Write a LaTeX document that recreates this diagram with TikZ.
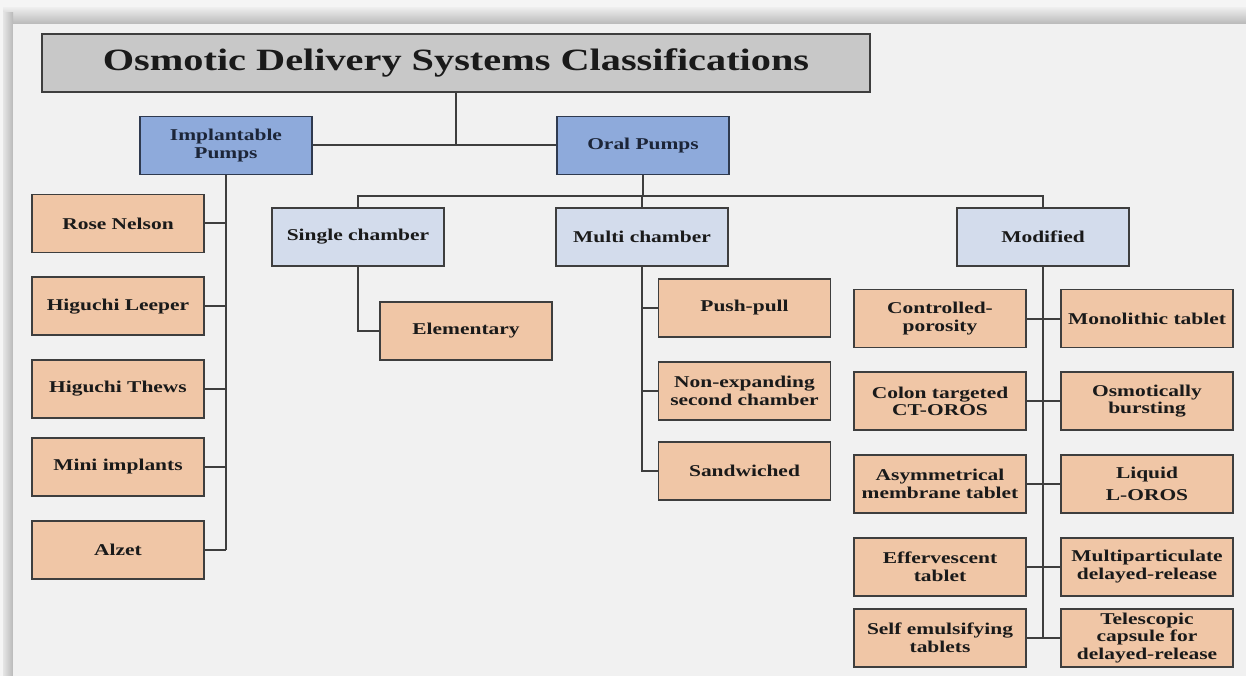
\documentclass[tikz,border=0pt]{standalone}
\usepackage{fontspec}
\setmainfont{Liberation Serif}[FakeStretch=1.3]
\definecolor{pumpblue}{HTML}{8EAADB}
\definecolor{pumpedge}{HTML}{2F3A4F}
\definecolor{pumptext}{HTML}{1C2538}
\definecolor{kindblue}{HTML}{D3DCEC}
\definecolor{leaforange}{HTML}{F0C6A6}
\definecolor{titlegray}{HTML}{C8C8C8}
\definecolor{edge}{HTML}{3E3E3E}
\definecolor{ink}{HTML}{1A1A1A}
\definecolor{canvas}{HTML}{F1F1F1}
\begin{document}
\begin{tikzpicture}[x=1pt,y=-1pt,
  box/.style = {draw=edge, line width=1.9pt, rectangle, minimum width=172pt, minimum height=58pt, inner sep=2pt, align=center, text=ink, font=\bfseries\fontsize{16.5}{17.5}\selectfont},
  head/.style = {box, fill=titlegray, minimum width=828pt, font=\bfseries\fontsize{31}{34}\selectfont},
  pump/.style = {box, fill=pumpblue, draw=pumpedge, text=pumptext},
  kind/.style = {box, fill=kindblue},
  leaf/.style = {box, fill=leaforange},
  link/.style = {draw=edge, line width=2pt}]
\useasboundingbox (0,0) rectangle (1246,676);
% frame
\fill[white!96!black] (0,0) rectangle (1246,676);
\shade[top color=gray!15, bottom color=gray!55] (3,8) rectangle (1246,24);
\shade[left color=gray!20, right color=gray!55] (3,13) rectangle (13,676);
\fill[canvas] (13,24) rectangle (1246,676);
% top levels
\node[head] (title) at (456,63) {Osmotic Delivery Systems Classifications};
\node[pump] (impl) at (226,145.5) {Implantable\\Pumps};
\node[pump] (oral) at (643,145.5) {Oral Pumps};
% implantable pumps
\node[leaf] (rose) at (118,223.5) {Rose Nelson};
\node[leaf] (leeper) at (118,306.3) {Higuchi Leeper};
\node[leaf] (thews) at (118,388.8) {Higuchi Thews};
\node[leaf] (mini) at (118,466.7) {Mini implants};
\node[leaf] (alzet) at (118,549.8) {Alzet};
% oral pumps
\node[kind] (single) at (358,237) {Single chamber};
\node[kind] (multi) at (642,237) {Multi chamber};
\node[kind] (modif) at (1043,237) {Modified};
\node[leaf] (elem) at (466,331) {Elementary};
\node[leaf] (push) at (744.5,308) {Push-pull};
\node[leaf] (nonexp) at (744.5,391) {Non-expanding\\second chamber};
\node[leaf] (sandw) at (744.5,471) {Sandwiched};
% modified
\node[leaf] (contr) at (940,318.5) {Controlled-\\porosity};
\node[leaf] (mono) at (1147,318.5) {Monolithic tablet};
\node[leaf] (colon) at (940,401.3) {Colon targeted\\CT-OROS};
\node[leaf] (burst) at (1147,401.3) {Osmotically\\bursting};
\node[leaf] (asym) at (940,484) {Asymmetrical\\membrane tablet};
\node[leaf] (liquid) at (1147,484) {Liquid\\[4pt]L-OROS};
\node[leaf] (efferv) at (940,566.8) {Effervescent\\tablet};
\node[leaf] (multip) at (1147,566.8) {Multiparticulate\\delayed-release};
\node[leaf] (selfem) at (940,637.8) {Self emulsifying\\tablets};
\node[leaf] (telesc) at (1147,637.8) {Telescopic\\capsule for\\delayed-release};
\coordinate (bus) at (643,196);
% connectors
\draw[link] (title.south) -- (title.south |- impl.east);
\draw[link] (impl) -- (oral);
\draw[link] (impl.south) -- (impl.south |- alzet.east);
\foreach \n in {rose,leeper,thews,mini,alzet}
  \draw[link] (\n.east) -- (impl.south |- \n.east);
\draw[link] (oral.south) -- (bus);
\draw[link] (single.north) |- (bus) -| (modif.north);
\draw[link] (multi.north) -- (multi.north |- bus);
\draw[link] (single.south) |- (elem.west);
\draw[link] (multi.south) |- (sandw.west);
\draw[link] (push.west) -- (multi.south |- push.west);
\draw[link] (nonexp.west) -- (multi.south |- nonexp.west);
\draw[link] (modif.south) -- (modif.south |- selfem.east);
\foreach \a/\b in {contr/mono,colon/burst,asym/liquid,efferv/multip,selfem/telesc}
  \draw[link] (\a.east) -- (\b.west);
\end{tikzpicture}
\end{document}
